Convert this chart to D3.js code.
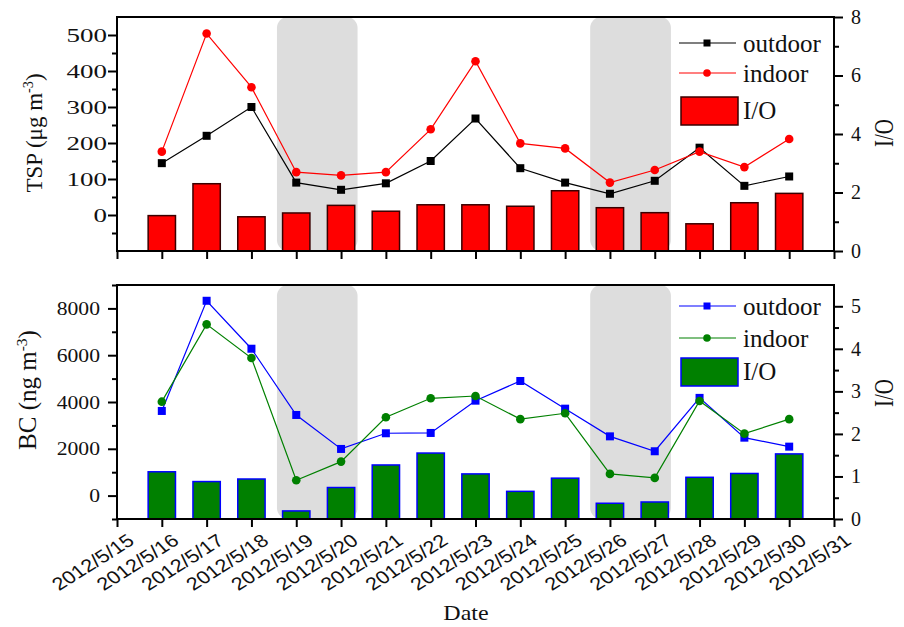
<!DOCTYPE html>
<html>
<head>
<meta charset="utf-8">
<script src="https://cdn.jsdelivr.net/npm/d3@7/dist/d3.min.js"></script>
<style>
  html, body { margin: 0; padding: 0; background: #fff; }
  svg { display: block; }
</style>
</head>
<body>
<svg id="chart" width="904" height="627"></svg>
<script>
// ---- data -------------------------------------------------------------
const dates = ["2012/5/16","2012/5/17","2012/5/18","2012/5/19","2012/5/20",
               "2012/5/21","2012/5/22","2012/5/23","2012/5/24","2012/5/25",
               "2012/5/26","2012/5/27","2012/5/28","2012/5/29","2012/5/30"];
const xTickLabels = ["2012/5/15","2012/5/16","2012/5/17","2012/5/18","2012/5/19",
                     "2012/5/20","2012/5/21","2012/5/22","2012/5/23","2012/5/24",
                     "2012/5/25","2012/5/26","2012/5/27","2012/5/28","2012/5/29",
                     "2012/5/30","2012/5/31"];
// TSP, µg m-3
const tspOutdoor = [144, 220, 300, 90, 70, 88, 150, 268, 130, 90, 59, 95, 187, 81, 107];
const tspIndoor  = [176, 504, 355, 119, 110, 119, 238, 427, 199, 185, 90, 125, 176, 133, 211];
const tspRatio   = [1.21, 2.30, 1.17, 1.30, 1.56, 1.36, 1.58, 1.58, 1.53, 2.06, 1.48, 1.31, 0.93, 1.65, 1.97];
// BC, ng m-3
const bcOutdoor = [3617, 8326, 6277, 3446, 1994, 2664, 2677, 4057, 4898, 3715, 2532, 1895, 4176, 2476, 2092];
const bcIndoor  = [4014, 7318, 5880, 656, 1452, 3348, 4159, 4257, 3268, 3518, 927, 756, 4044, 2647, 3268];
const bcRatio   = [1.11, 0.88, 0.94, 0.19, 0.74, 1.27, 1.55, 1.06, 0.65, 0.96, 0.37, 0.40, 0.98, 1.07, 1.53];
// shaded periods
const shadeSpans = [["2012/5/18 13:40", "2012/5/20 08:50"],
                    ["2012/5/25 13:25", "2012/5/27 08:40"]];
const tspTicks = [0, 100, 200, 300, 400, 500];
const bcTicks = [0, 2000, 4000, 6000, 8000];
const tspRatioTicks = [0, 2, 4, 6, 8];
const bcRatioTicks = [0, 1, 2, 3, 4, 5];

// ---- layout -----------------------------------------------------------
const SERIF = '"Liberation Serif", "Times New Roman", serif';
const SANS = '"Liberation Sans", Arial, sans-serif';
const parseDay = d3.timeParse("%Y/%m/%d");
const parseHour = d3.timeParse("%Y/%m/%d %H:%M");
const X0 = 117, X1 = 834;
const panels = [
  { top: 17, bottom: 251 },
  { top: 285, bottom: 519 }
];

const svg = d3.select("#chart");
const x = d3.scaleTime()
  .domain([parseDay(xTickLabels[0]), parseDay(xTickLabels[xTickLabels.length - 1])])
  .range([X0, X1]);
const dayW = x(parseDay("2012/5/17")) - x(parseDay("2012/5/16"));
const barW = dayW * 0.61;

// shaded rounded bands
function drawShades(p) {
  svg.append("g").selectAll("rect").data(shadeSpans).join("rect")
    .attr("x", d => x(parseHour(d[0])))
    .attr("width", d => x(parseHour(d[1])) - x(parseHour(d[0])))
    .attr("y", p.top)
    .attr("height", p.bottom - p.top)
    .attr("rx", 11).attr("ry", 11)
    .attr("fill", "#dddddd");
}

function styleTickLabels(sel, anchor, offset, sx, size) {
  sel.selectAll(".tick text")
    .style("font-family", SERIF)
    .style("font-size", size + "px")
    .attr("fill", "#111")
    .attr("x", 0)
    .attr("text-anchor", anchor)
    .attr("transform", `translate(${offset},0) scale(${sx},1)`);
}

function drawPanel(p, cfg) {
  const yL = d3.scaleLinear().domain(cfg.leftDomain).range([p.bottom, p.top]);
  const yR = d3.scaleLinear().domain(cfg.rightDomain).range([p.bottom, p.top]);

  drawShades(p);

  // I/O bars on the right axis
  svg.append("g").selectAll("rect").data(cfg.ratio).join("rect")
    .attr("x", (d, i) => x(parseDay(dates[i])) - barW / 2)
    .attr("width", barW)
    .attr("y", d => yR(d))
    .attr("height", d => p.bottom - yR(d))
    .attr("fill", cfg.barFill)
    .attr("stroke", cfg.barStroke)
    .attr("stroke-width", 1.5);

  const line = d3.line().x((d, i) => x(parseDay(dates[i]))).y(d => yL(d));

  // outdoor series: squares
  svg.append("path").datum(cfg.outdoor)
    .attr("d", line).attr("fill", "none")
    .attr("stroke", cfg.outColor).attr("stroke-width", 1.2);
  svg.append("g").selectAll("rect").data(cfg.outdoor).join("rect")
    .attr("x", (d, i) => x(parseDay(dates[i])) - 4)
    .attr("y", d => yL(d) - 4)
    .attr("width", 8).attr("height", 8)
    .attr("fill", cfg.outColor);

  // indoor series: circles
  svg.append("path").datum(cfg.indoor)
    .attr("d", line).attr("fill", "none")
    .attr("stroke", cfg.inColor).attr("stroke-width", 1.2);
  svg.append("g").selectAll("circle").data(cfg.indoor).join("circle")
    .attr("cx", (d, i) => x(parseDay(dates[i])))
    .attr("cy", d => yL(d))
    .attr("r", 4.3)
    .attr("fill", cfg.inColor);

  // frame
  svg.append("rect")
    .attr("x", X0).attr("y", p.top)
    .attr("width", X1 - X0).attr("height", p.bottom - p.top)
    .attr("fill", "none").attr("stroke", "#000").attr("stroke-width", 2);

  // left axis: major + minor
  const gL = svg.append("g").attr("transform", `translate(${X0},0)`);
  gL.call(d3.axisLeft(yL).tickValues(cfg.leftTicks).tickSize(9).tickPadding(0).tickFormat(d3.format("d")))
    .call(g => g.select(".domain").remove());
  gL.selectAll(".tick line").attr("stroke-width", 2);
  styleTickLabels(gL, "end", cfg.leftLabelOffset, cfg.leftLabelScale, 19);
  svg.append("g").attr("transform", `translate(${X0},0)`)
    .call(d3.axisLeft(yL).tickValues(cfg.leftMinor).tickSize(5).tickFormat(""))
    .call(g => g.select(".domain").remove())
    .selectAll("line").attr("stroke-width", 2);

  // right axis: major + minor
  const gR = svg.append("g").attr("transform", `translate(${X1},0)`);
  gR.call(d3.axisRight(yR).tickValues(cfg.rightTicks).tickSize(9).tickPadding(0).tickFormat(d3.format("d")))
    .call(g => g.select(".domain").remove());
  gR.selectAll(".tick line").attr("stroke-width", 2);
  styleTickLabels(gR, "start", 17, 1.0, 20);
  svg.append("g").attr("transform", `translate(${X1},0)`)
    .call(d3.axisRight(yR).tickValues(cfg.rightMinor).tickSize(5).tickFormat(""))
    .call(g => g.select(".domain").remove())
    .selectAll("line").attr("stroke-width", 2);

  // bottom date ticks
  const gB = svg.append("g").attr("transform", `translate(0,${p.bottom})`);
  gB.call(d3.axisBottom(x)
      .tickValues(xTickLabels.map(parseDay))
      .tickSize(8)
      .tickFormat((d, i) => cfg.showDates ? xTickLabels[i] : ""))
    .call(g => g.select(".domain").remove());
  gB.selectAll(".tick line").attr("stroke-width", 2);
  if (cfg.showDates) {
    gB.selectAll(".tick text")
      .style("font-family", SANS)
      .style("font-size", "18px")
      .attr("fill", "#111")
      .attr("text-anchor", "end")
      .attr("x", 0).attr("y", 0).attr("dy", "0.7em")
      .attr("transform", "translate(9,14) scale(1.2,1) rotate(-37)");
  } else {
    gB.selectAll(".tick text").remove();
  }

  // left title
  const tl = svg.append("text")
    .style("font-family", SERIF)
    .style("font-size", cfg.titleSize + "px")
    .attr("fill", "#111")
    .attr("text-anchor", "middle")
    .attr("transform", `translate(${cfg.titleX},${cfg.titleY}) rotate(-90)`);
  tl.append("tspan").text(cfg.titleMain);
  tl.append("tspan").style("font-size", (cfg.titleSize * 0.62) + "px").attr("dy", -9).text("-3");
  tl.append("tspan").attr("dy", 9).text(")");

  // right title
  svg.append("text")
    .style("font-family", SERIF)
    .style("font-size", "21px")
    .attr("fill", "#111")
    .attr("text-anchor", "middle")
    .attr("transform", `translate(${cfg.rTitleX},${cfg.rTitleY}) rotate(-90) scale(1,1.3)`)
    .text("I/O");

  // legend
  const L = cfg.legend;
  const lg = svg.append("g");
  lg.append("line").attr("x1", 679).attr("x2", 736).attr("y1", L.outY).attr("y2", L.outY)
    .attr("stroke", cfg.outColor).attr("stroke-width", 1.2);
  lg.append("rect").attr("x", 703.5).attr("y", L.outY - 3.5).attr("width", 7).attr("height", 7)
    .attr("fill", cfg.outColor);
  lg.append("line").attr("x1", 679).attr("x2", 736).attr("y1", L.inY).attr("y2", L.inY)
    .attr("stroke", cfg.inColor).attr("stroke-width", 1.2);
  lg.append("circle").attr("cx", 707).attr("cy", L.inY).attr("r", 3.8)
    .attr("fill", cfg.inColor);
  lg.append("rect").attr("x", 681).attr("y", L.barY).attr("width", 57).attr("height", 28)
    .attr("fill", cfg.barFill).attr("stroke", cfg.barStroke).attr("stroke-width", 1.5);
  const labels = [["outdoor", L.outY + 9], ["indoor", L.inY + 9], ["I/O", L.barY + 22]];
  lg.selectAll("text").data(labels).join("text")
    .style("font-family", SERIF).style("font-size", "25px")
    .attr("fill", "#111")
    .attr("x", 743).attr("y", d => d[1]).text(d => d[0]);
}

drawPanel(panels[0], {
  leftDomain: [-100, 550], rightDomain: [0, 8],
  leftTicks: tspTicks, leftMinor: [-50, 50, 150, 250, 350, 450],
  rightTicks: tspRatioTicks, rightMinor: [1, 3, 5, 7],
  leftLabelOffset: -10, leftLabelScale: 1.42,
  outdoor: tspOutdoor, indoor: tspIndoor, ratio: tspRatio,
  outColor: "#000000", inColor: "#ff0000",
  barFill: "#ff0000", barStroke: "#3a0000",
  showDates: false,
  titleMain: "TSP (\u03BCg m", titleSize: 23, titleX: 42, titleY: 133,
  rTitleX: 893, rTitleY: 133,
  legend: { outY: 43, inY: 73, barY: 97 }
});

drawPanel(panels[1], {
  leftDomain: [-1000, 9000], rightDomain: [0, 5.5],
  leftTicks: bcTicks, leftMinor: [-1000, 1000, 3000, 5000, 7000, 9000],
  rightTicks: bcRatioTicks, rightMinor: [0.5, 1.5, 2.5, 3.5, 4.5],
  leftLabelOffset: -17, leftLabelScale: 1.14,
  outdoor: bcOutdoor, indoor: bcIndoor, ratio: bcRatio,
  outColor: "#0000ff", inColor: "#008000",
  barFill: "#008000", barStroke: "#0000ff",
  showDates: true,
  titleMain: "BC (ng m", titleSize: 25, titleX: 36, titleY: 390,
  rTitleX: 893, rTitleY: 393,
  legend: { outY: 306, inY: 338, barY: 358 }
});

// x-axis title
svg.append("text")
  .style("font-family", SERIF)
  .style("font-size", "20px")
  .attr("fill", "#111")
  .attr("text-anchor", "middle")
  .attr("transform", "translate(466,620) scale(1.2,1)")
  .text("Date");
</script>
</body>
</html>
